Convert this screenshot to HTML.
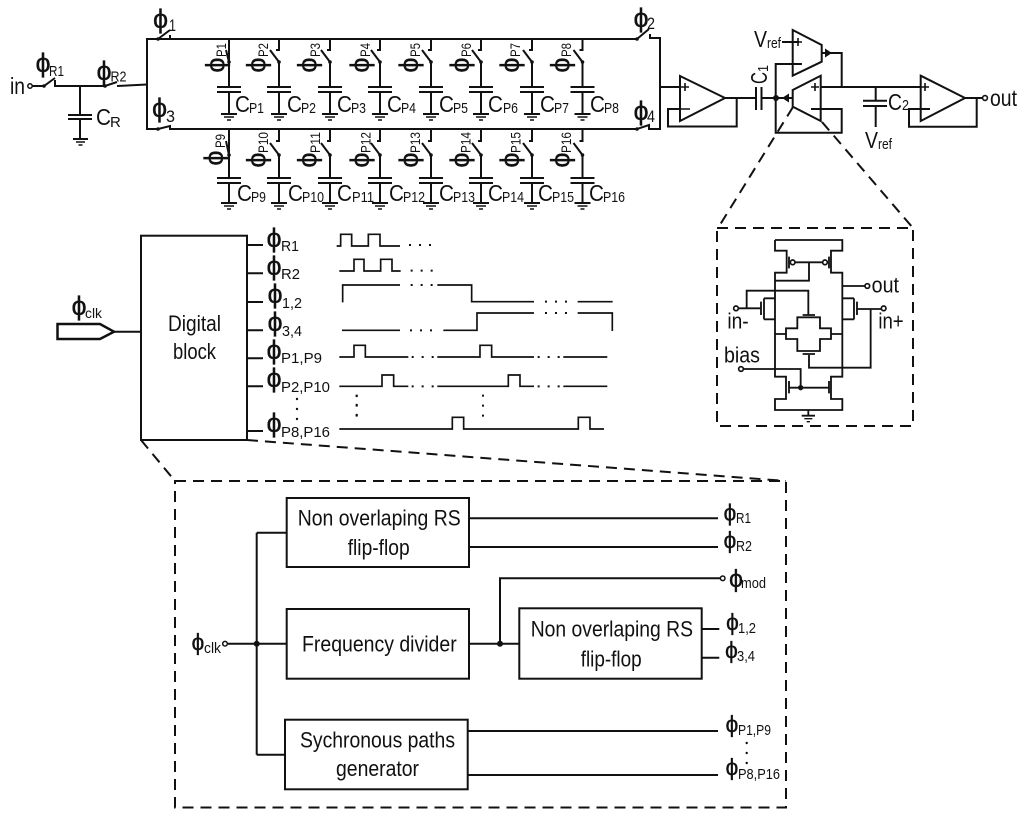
<!DOCTYPE html>
<html><head><meta charset="utf-8"><style>
html,body{margin:0;padding:0;background:#fff}
svg{display:block}
text{font-family:"Liberation Sans",sans-serif;fill:#111;stroke:none}
.l{fill:none;stroke:#111;stroke-width:2}
.t{fill:none;stroke:#111;stroke-width:1.6}
.d{fill:none;stroke:#111;stroke-width:2;stroke-dasharray:11 7}
.p{font-size:27px;stroke:#111;stroke-width:.3px}
.q{font-size:23px;stroke:#111;stroke-width:.3px}
.r{font-size:27px;stroke:#111;stroke-width:.3px}
.s{font-size:15px}.u{font-size:17px}.c{font-size:23px}.b{font-size:22px}
.f{fill:#111;stroke:none}
</style></head><body>
<svg width="1024" height="815" viewBox="0 0 1024 815" xmlns="http://www.w3.org/2000/svg">
<defs>
<g id="tb"><path class="l" d="M0,0V11H-3M-9,11L0,23V48M-12,48H12M-12,53H12M0,53V75M-8,75H8"/><path class="t" d="M-5,78H5M-2,81H2"/><circle class="f" r="1.8" cy="23"/></g>
<g id="bb"><path class="l" d="M0,0V12H-3M-9,14L0,26V49M-12,49H12M-12,54H12M0,54V74M-8,74H8"/><path class="t" d="M-5,77H5M-2,80H2"/><circle class="f" r="1.8" cy="26"/></g>
<g id="tb1"><path class="l" d="M0,0V23L-3,11M0,23V48M-12,48H12M-12,53H12M0,53V75M-8,75H8"/><path class="t" d="M-5,78H5M-2,81H2"/><circle class="f" r="1.8" cy="23"/></g>
<g id="bb1"><path class="l" d="M0,0V26L-3,12M0,26V49M-12,49H12M-12,54H12M0,54V74M-8,74H8"/><path class="t" d="M-5,77H5M-2,80H2"/><circle class="f" r="1.8" cy="26"/></g>
</defs>

<!-- input section -->
<text class="c" x="10" y="94" textLength="15" lengthAdjust="spacingAndGlyphs">in</text>
<circle cx="30" cy="86" r="2.2" fill="#fff" stroke="#111" stroke-width="1.5"/>
<path class="l" d="M32,86H44L55,78M55,80V86H105L117,82M117,86L147,84.5M80,86V115M68,115H92M68,119H92M80,119V139M73,139H88"/>
<path class="t" d="M76,142H85M78.500,145H82.500"/>
<circle class="f" cx="44" cy="86" r="1.8"/><circle class="f" cx="105" cy="86" r="1.8"/>
<text class="p" x="35.500" y="72">ϕ</text><text class="s" x="49" y="76" textLength="15" lengthAdjust="spacingAndGlyphs">R1</text>
<text class="p" x="96.500" y="80">ϕ</text><text class="s" x="110.500" y="81.500" textLength="16" lengthAdjust="spacingAndGlyphs">R2</text>
<text class="c" x="96" y="125" textLength="15" lengthAdjust="spacingAndGlyphs">C</text><text class="s" x="110" y="127">R</text>

<!-- rails -->
<path class="l" d="M170,39H147V129H158M158,39L170,30M170,35V39H637L649,29M650,34V38H660V129H649V125L637,129H170V126L158,129M660,87H680"/>
<circle class="f" cx="158" cy="39" r="1.8"/><circle class="f" cx="637" cy="39" r="1.8"/><circle class="f" cx="158" cy="129" r="1.8"/><circle class="f" cx="637" cy="129" r="1.8"/>
<text class="p" x="153" y="28">ϕ</text><text class="u" x="169" y="31" textLength="7" lengthAdjust="spacingAndGlyphs">1</text>
<text class="p" x="152" y="117">ϕ</text><text class="u" x="166" y="122" textLength="9" lengthAdjust="spacingAndGlyphs">3</text>
<text class="p" x="633.500" y="27">ϕ</text><text class="u" x="647" y="29" textLength="8" lengthAdjust="spacingAndGlyphs">2</text>
<text class="p" x="633.500" y="120">ϕ</text><text class="u" x="647" y="122" textLength="8" lengthAdjust="spacingAndGlyphs">4</text>

<!-- top branches -->
<use href="#tb1" x="229" y="39"/><use href="#tb" x="279" y="39"/><use href="#tb" x="330" y="39"/><use href="#tb" x="380" y="39"/><use href="#tb" x="431" y="39"/><use href="#tb" x="481" y="39"/><use href="#tb" x="532" y="39"/><use href="#tb" x="582.500" y="39"/>
<!-- bottom branches -->
<use href="#bb1" x="229" y="129"/><use href="#bb" x="279" y="129"/><use href="#bb" x="330" y="129"/><use href="#bb" x="380" y="129"/><use href="#bb" x="431" y="129"/><use href="#bb" x="481" y="129"/><use href="#bb" x="532" y="129"/><use href="#bb" x="582.500" y="129"/>

<!-- rotated phi labels top -->
<text class="r" transform="translate(224.500,65) rotate(-90)" text-anchor="middle">ϕ</text><text transform="translate(226,57) rotate(-90)" font-size="14" textLength="14" lengthAdjust="spacingAndGlyphs">P1</text>
<text class="r" transform="translate(265.500,65) rotate(-90)" text-anchor="middle">ϕ</text><text transform="translate(268,57) rotate(-90)" font-size="14" textLength="14" lengthAdjust="spacingAndGlyphs">P2</text>
<text class="r" transform="translate(316.500,65) rotate(-90)" text-anchor="middle">ϕ</text><text transform="translate(320,57) rotate(-90)" font-size="14" textLength="14" lengthAdjust="spacingAndGlyphs">P3</text>
<text class="r" transform="translate(369,65) rotate(-90)" text-anchor="middle">ϕ</text><text transform="translate(370,57) rotate(-90)" font-size="14" textLength="14" lengthAdjust="spacingAndGlyphs">P4</text>
<text class="r" transform="translate(418,65) rotate(-90)" text-anchor="middle">ϕ</text><text transform="translate(420,57) rotate(-90)" font-size="14" textLength="14" lengthAdjust="spacingAndGlyphs">P5</text>
<text class="r" transform="translate(469,65) rotate(-90)" text-anchor="middle">ϕ</text><text transform="translate(471,57) rotate(-90)" font-size="14" textLength="14" lengthAdjust="spacingAndGlyphs">P6</text>
<text class="r" transform="translate(519,65) rotate(-90)" text-anchor="middle">ϕ</text><text transform="translate(520,57) rotate(-90)" font-size="14" textLength="14" lengthAdjust="spacingAndGlyphs">P7</text>
<text class="r" transform="translate(569.500,65) rotate(-90)" text-anchor="middle">ϕ</text><text transform="translate(571,57) rotate(-90)" font-size="14" textLength="14" lengthAdjust="spacingAndGlyphs">P8</text>
<!-- bottom -->
<text class="r" transform="translate(223,158) rotate(-90)" text-anchor="middle">ϕ</text><text transform="translate(225,148) rotate(-90)" font-size="14" textLength="14" lengthAdjust="spacingAndGlyphs">P9</text>
<text class="r" transform="translate(265.500,160) rotate(-90)" text-anchor="middle">ϕ</text><text transform="translate(268,153) rotate(-90)" font-size="14" textLength="21" lengthAdjust="spacingAndGlyphs">P10</text>
<text class="r" transform="translate(316.500,160) rotate(-90)" text-anchor="middle">ϕ</text><text transform="translate(320,153) rotate(-90)" font-size="14" textLength="21" lengthAdjust="spacingAndGlyphs">P11</text>
<text class="r" transform="translate(369,160) rotate(-90)" text-anchor="middle">ϕ</text><text transform="translate(370.500,153) rotate(-90)" font-size="14" textLength="21" lengthAdjust="spacingAndGlyphs">P12</text>
<text class="r" transform="translate(418,160) rotate(-90)" text-anchor="middle">ϕ</text><text transform="translate(420,153) rotate(-90)" font-size="14" textLength="21" lengthAdjust="spacingAndGlyphs">P13</text>
<text class="r" transform="translate(469,160) rotate(-90)" text-anchor="middle">ϕ</text><text transform="translate(470.500,153) rotate(-90)" font-size="14" textLength="21" lengthAdjust="spacingAndGlyphs">P14</text>
<text class="r" transform="translate(519,160) rotate(-90)" text-anchor="middle">ϕ</text><text transform="translate(520.500,153) rotate(-90)" font-size="14" textLength="21" lengthAdjust="spacingAndGlyphs">P15</text>
<text class="r" transform="translate(569.500,160) rotate(-90)" text-anchor="middle">ϕ</text><text transform="translate(571,153) rotate(-90)" font-size="14" textLength="21" lengthAdjust="spacingAndGlyphs">P16</text>

<!-- C labels top -->
<text class="c" x="235" y="112" textLength="15" lengthAdjust="spacingAndGlyphs">C</text><text class="s" x="249" y="113" textLength="15" lengthAdjust="spacingAndGlyphs">P1</text>
<text class="c" x="287" y="112" textLength="15" lengthAdjust="spacingAndGlyphs">C</text><text class="s" x="301" y="113" textLength="15" lengthAdjust="spacingAndGlyphs">P2</text>
<text class="c" x="337" y="112" textLength="15" lengthAdjust="spacingAndGlyphs">C</text><text class="s" x="351" y="113" textLength="15" lengthAdjust="spacingAndGlyphs">P3</text>
<text class="c" x="387" y="112" textLength="15" lengthAdjust="spacingAndGlyphs">C</text><text class="s" x="401" y="113" textLength="15" lengthAdjust="spacingAndGlyphs">P4</text>
<text class="c" x="439" y="112" textLength="15" lengthAdjust="spacingAndGlyphs">C</text><text class="s" x="453" y="113" textLength="15" lengthAdjust="spacingAndGlyphs">P5</text>
<text class="c" x="488" y="112" textLength="15" lengthAdjust="spacingAndGlyphs">C</text><text class="s" x="503" y="113" textLength="15" lengthAdjust="spacingAndGlyphs">P6</text>
<text class="c" x="540" y="112" textLength="15" lengthAdjust="spacingAndGlyphs">C</text><text class="s" x="554" y="113" textLength="15" lengthAdjust="spacingAndGlyphs">P7</text>
<text class="c" x="590" y="112" textLength="15" lengthAdjust="spacingAndGlyphs">C</text><text class="s" x="604" y="113" textLength="15" lengthAdjust="spacingAndGlyphs">P8</text>
<!-- C labels bottom -->
<text class="c" x="237" y="201" textLength="15" lengthAdjust="spacingAndGlyphs">C</text><text class="s" x="251" y="202" textLength="15" lengthAdjust="spacingAndGlyphs">P9</text>
<text class="c" x="288" y="201" textLength="15" lengthAdjust="spacingAndGlyphs">C</text><text class="s" x="302" y="202" textLength="22" lengthAdjust="spacingAndGlyphs">P10</text>
<text class="c" x="337" y="201" textLength="15" lengthAdjust="spacingAndGlyphs">C</text><text class="s" x="352" y="202" textLength="22" lengthAdjust="spacingAndGlyphs">P11</text>
<text class="c" x="389" y="201" textLength="15" lengthAdjust="spacingAndGlyphs">C</text><text class="s" x="403" y="202" textLength="22" lengthAdjust="spacingAndGlyphs">P12</text>
<text class="c" x="439" y="201" textLength="15" lengthAdjust="spacingAndGlyphs">C</text><text class="s" x="453" y="202" textLength="22" lengthAdjust="spacingAndGlyphs">P13</text>
<text class="c" x="488" y="201" textLength="15" lengthAdjust="spacingAndGlyphs">C</text><text class="s" x="502" y="202" textLength="22" lengthAdjust="spacingAndGlyphs">P14</text>
<text class="c" x="538" y="201" textLength="15" lengthAdjust="spacingAndGlyphs">C</text><text class="s" x="552" y="202" textLength="22" lengthAdjust="spacingAndGlyphs">P15</text>
<text class="c" x="589" y="201" textLength="15" lengthAdjust="spacingAndGlyphs">C</text><text class="s" x="603" y="202" textLength="22" lengthAdjust="spacingAndGlyphs">P16</text>

<!-- amp section -->
<path class="l" d="M680,76L725,98L680,121ZM676,87H680M680,109H668V126.500H736.700V98M725,98H756M756,87V110M761.500,87V110M761.500,98H793"/>
<path class="l" d="M792.700,90L820.700,75.700V121L792.700,106.700ZM820.700,87H920.500M811,109H841.700V132.700H775.700V64H801.700M792.700,30L821.700,45V61.700L792.700,75.700ZM782,42H799M821.700,53H841.700V87"/>
<path class="l" d="M875.700,87V100.700M863,100.700H887M863,106H887M875.700,106V127"/>
<path class="l" d="M920.700,75.700L965,98L920.700,121ZM965,98H983M976.700,98V126.700H909V109H930"/>
<circle cx="985" cy="98" r="2.400" fill="#fff" stroke="#111" stroke-width="1.6"/>
<circle class="f" cx="776" cy="98" r="3"/>
<path class="f" d="M782,98L789,93.500V102.500Z"/><path class="f" d="M832,53L825,48.500V57.500Z"/>
<path class="t" d="M681,87H689M685,83V91M681,109H690M811,87H819M815,83V91M811,109H819M794,42H802M798,38V46M794,64H802M921,87H929M925,83V91M921,109H929"/>
<text class="c" x="754" y="47" textLength="13" lengthAdjust="spacingAndGlyphs">V</text><text class="s" x="767" y="48" textLength="14" lengthAdjust="spacingAndGlyphs">ref</text>
<text class="c" x="865" y="148" textLength="13" lengthAdjust="spacingAndGlyphs">V</text><text class="s" x="878" y="149" textLength="14" lengthAdjust="spacingAndGlyphs">ref</text>
<text class="c" transform="translate(767,84) rotate(-90)" textLength="12" lengthAdjust="spacingAndGlyphs">C</text><text class="s" transform="translate(768,72) rotate(-90)" textLength="7" lengthAdjust="spacingAndGlyphs">1</text>
<text class="c" x="888" y="110" textLength="14" lengthAdjust="spacingAndGlyphs">C</text><text class="s" x="902" y="110" textLength="7" lengthAdjust="spacingAndGlyphs">2</text>
<text class="c" x="990" y="106" textLength="27" lengthAdjust="spacingAndGlyphs">out</text>

<!-- zoom dashed lines -->
<path class="d" d="M793,107L718,228M822,122L913,228"/>
<rect class="d" x="717" y="228" width="196" height="198"/>

<!-- OTA schematic -->
<g transform="translate(710,220) scale(0.3333)">
<path fill="none" stroke="#111" stroke-width="5.500" d="M195,60V92H230V158H195V470H228V537H195V570H397V537H363V470H397V158H363V92H397V60H195M237,110V145M357,110V145M255,127H337M297,127V182H195M397,198H465M85,265H153M153,245V285M162,235V298M162,235H195M162,298H195M110,265V212H295V285M278,285H315M432,235V298M397,235H432M397,298H432M441,245V285M441,267H515M482,267V443H297V405M278,402H315M262,292H330V325H363V357H330V393H262V357H228V325H262ZM195,342H228M363,342H397M100,447H272V503M237,503H357M237,483V520M357,483V520M295,570V587M275,587H315"/>
<path fill="none" stroke="#111" stroke-width="4" d="M283,596H307M290,605H300"/>
<g fill="#fff" stroke="#111" stroke-width="5"><circle cx="248" cy="127" r="7"/><circle cx="345" cy="127" r="7"/><circle cx="472" cy="198" r="7"/><circle cx="78" cy="265" r="7"/><circle cx="521" cy="265" r="7"/><circle cx="93" cy="447" r="7"/></g>
<circle class="f" cx="272" cy="503" r="8"/>
<g font-size="66">
<text x="485" y="218" textLength="82" lengthAdjust="spacingAndGlyphs">out</text>
<text x="52" y="325" textLength="64" lengthAdjust="spacingAndGlyphs">in-</text>
<text x="505" y="325" textLength="76" lengthAdjust="spacingAndGlyphs">in+</text>
<text x="42" y="428" textLength="108" lengthAdjust="spacingAndGlyphs">bias</text>
</g>
</g>

<!-- Digital block -->
<rect class="l" x="141" y="235.700" width="106" height="204.300"/>
<path class="l" d="M57.500,324H100L114,331.700L100,339H57.500Z" style="stroke-width:2.500"/>
<path class="l" d="M114,331.700H141M247,245H263M247,273.300H263M247,302H263M247,330.300H263M247,358.300H263M247,386.300H263M247,431H263"/>
<text class="b" x="168" y="331" textLength="53" lengthAdjust="spacingAndGlyphs">Digital</text>
<text class="b" x="173" y="359" textLength="43" lengthAdjust="spacingAndGlyphs">block</text>
<text class="p" x="71.500" y="315">ϕ</text><text font-size="14" x="85" y="318" textLength="17" lengthAdjust="spacingAndGlyphs">clk</text>
<text class="p" x="266.500" y="247">ϕ</text><text class="s" x="281" y="251" textLength="18" lengthAdjust="spacingAndGlyphs">R1</text>
<text class="p" x="266.500" y="275">ϕ</text><text class="s" x="281" y="279" textLength="19" lengthAdjust="spacingAndGlyphs">R2</text>
<text class="p" x="267.500" y="303">ϕ</text><text class="s" x="282" y="308" textLength="20" lengthAdjust="spacingAndGlyphs">1,2</text>
<text class="p" x="267.500" y="331">ϕ</text><text class="s" x="282" y="336" textLength="20" lengthAdjust="spacingAndGlyphs">3,4</text>
<text class="p" x="266.500" y="359">ϕ</text><text class="s" x="281" y="363" textLength="41" lengthAdjust="spacingAndGlyphs">P1,P9</text>
<text class="p" x="266.500" y="387">ϕ</text><text class="s" x="281" y="392" textLength="49" lengthAdjust="spacingAndGlyphs">P2,P10</text>
<text class="p" x="266.500" y="432">ϕ</text><text class="s" x="281" y="437" textLength="49" lengthAdjust="spacingAndGlyphs">P8,P16</text>
<g class="f"><circle cx="297" cy="399" r="1.200"/><circle cx="297" cy="409" r="1.200"/><circle cx="297" cy="419" r="1.200"/><circle cx="356.700" cy="396" r="1.200"/><circle cx="356.700" cy="405" r="1.200"/><circle cx="356.700" cy="415" r="1.200"/></g>

<!-- waveforms -->
<g transform="translate(330,225) scale(0.3333)">
<path fill="none" stroke="#111" stroke-width="5" d="M20,63H32V28H65V63H115V28H150V63H210M28,138H72V103H102V138H152V103H186V138H212M38,232V180H210M322,180H425V230H612M743,230H848M36,316H210M340,316H441V264H612M743,264H847V318M28,396H72V361H106V396H235M322,396H450V361H485V396H612M700,396H832M28,484H156V450H191V484H235M322,484H535V450H570V484H612M700,484H832M28,612H367V577H401V612H745V577H780V612H822"/>
<g stroke="#111" stroke-width="6" fill="none" stroke-dasharray="6 24">
<path d="M237,60H303M242,137H308M242,180H308M240,316H306M645,230H711M645,264H711M245,396H311M623,396H689M245,484H311M623,484H689M80,509V576M459,509V576"/>
</g>
</g>

<!-- lower dashed -->
<path class="d" d="M141,440L175,481M247,440L786,481"/>
<rect class="d" x="175" y="481" width="611" height="326.500"/>

<rect class="l" x="286.700" y="498" width="182.300" height="69"/>
<rect class="l" x="286.700" y="609" width="182.300" height="69.700"/>
<rect class="l" x="285" y="719.700" width="182.700" height="69.600"/>
<rect class="l" x="519.300" y="608.300" width="182.400" height="70.400"/>
<path class="l" d="M228,643.700H286.700M256.700,532.700V754.700M286.700,532.700H256.700M256.700,754.700H285M469,518.300H718M469,547H718M469,643.700H519.300M500,643.700V578.300H720M701.700,629H719.300M701.700,657.700H719.300M467.700,731H718M467.700,775H718"/>
<circle class="f" cx="256.700" cy="643.700" r="3"/><circle class="f" cx="500" cy="643.700" r="3"/>
<circle cx="225" cy="643.700" r="2.300" fill="#fff" stroke="#111" stroke-width="1.500"/>
<circle cx="722.700" cy="578.300" r="2.300" fill="#fff" stroke="#111" stroke-width="1.500"/>
<text class="b" x="297.700" y="525.700" textLength="163" lengthAdjust="spacingAndGlyphs">Non overlaping RS</text>
<text class="b" x="347.700" y="555" textLength="62" lengthAdjust="spacingAndGlyphs">flip-flop</text>
<text class="b" x="302" y="651.700" textLength="154.700" lengthAdjust="spacingAndGlyphs">Frequency divider</text>
<text class="b" x="300" y="747.700" textLength="155" lengthAdjust="spacingAndGlyphs">Sychronous paths</text>
<text class="b" x="336" y="776" textLength="83" lengthAdjust="spacingAndGlyphs">generator</text>
<text class="b" x="530.700" y="636.700" textLength="162.300" lengthAdjust="spacingAndGlyphs">Non overlaping RS</text>
<text class="b" x="580.700" y="666.700" textLength="61" lengthAdjust="spacingAndGlyphs">flip-flop</text>
<text class="q" x="191.500" y="650">ϕ</text><text font-size="15" x="204" y="653" textLength="17" lengthAdjust="spacingAndGlyphs">clk</text>
<text class="q" x="723.500" y="520.500">ϕ</text><text class="s" x="736" y="523" textLength="15" lengthAdjust="spacingAndGlyphs">R1</text>
<text class="q" x="723.500" y="548">ϕ</text><text class="s" x="736" y="551" textLength="16" lengthAdjust="spacingAndGlyphs">R2</text>
<text class="q" x="729" y="587" style="font-size:25px">ϕ</text><text class="s" x="741" y="588" textLength="25" lengthAdjust="spacingAndGlyphs">mod</text>
<text class="q" x="726" y="630">ϕ</text><text class="s" x="738" y="633" textLength="18" lengthAdjust="spacingAndGlyphs">1,2</text>
<text class="q" x="725" y="658">ϕ</text><text class="s" x="737" y="661" textLength="18" lengthAdjust="spacingAndGlyphs">3,4</text>
<text class="q" x="725.500" y="732">ϕ</text><text class="s" x="738" y="735" textLength="33" lengthAdjust="spacingAndGlyphs">P1,P9</text>
<text class="q" x="725.500" y="775">ϕ</text><text class="s" x="738" y="779" textLength="42" lengthAdjust="spacingAndGlyphs">P8,P16</text>
<g class="f"><circle cx="746.700" cy="743" r="1.200"/><circle cx="746.700" cy="753" r="1.200"/><circle cx="746.700" cy="763" r="1.200"/></g>
</svg>
</body></html>
